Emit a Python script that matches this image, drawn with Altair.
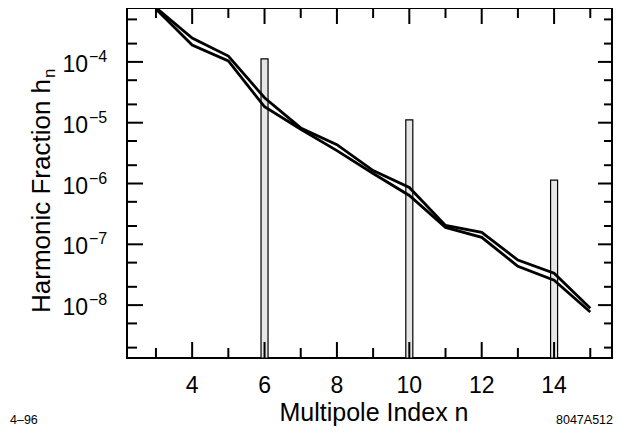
import altair as alt
import pandas as pd
import numpy as np

# ---- data ----
n_vals = [3, 4, 5, 6, 7, 8, 9, 10, 11, 12, 13, 14, 15]
upper = [7.8e-4, 2.47e-4, 1.25e-4, 2.57e-5, 8.2e-6, 4.36e-6, 1.63e-6, 8.6e-7,
         2.05e-7, 1.57e-7, 5.5e-8, 3.35e-8, 8.9e-9]
lower = [7.4e-4, 1.9e-4, 1.04e-4, 1.83e-5, 7.8e-6, 3.47e-6, 1.46e-6, 6.36e-7,
         1.9e-7, 1.3e-7, 4.36e-8, 2.57e-8, 7.7e-9]

bar_n = [6, 10, 14]
bar_h = [1.12e-4, 1.11e-5, 1.14e-6]

x_major = [4, 6, 8, 10, 12, 14]
x_minor = [3, 5, 7, 9, 11, 13, 15]
y_major = [1e-8, 1e-7, 1e-6, 1e-5, 1e-4]
y_minor = [2e-9, 5e-9, 2e-8, 5e-8, 2e-7, 5e-7, 2e-6, 5e-6, 2e-5, 5e-5, 2e-4, 5e-4]
y_exp = ["\u22128", "\u22127", "\u22126", "\u22125", "\u22124"]

x_domain = [2.2, 15.6]
y_domain = [1.35e-9, 7.7e-4]

W, H = 485, 350
BAR_HALF = 0.097
FONT = "Liberation Sans"

xs = alt.Scale(domain=x_domain, nice=False, zero=False)
ys = alt.Scale(type="log", domain=y_domain, nice=False)

lines_df = pd.DataFrame({
    "n": n_vals * 2,
    "h": upper + lower,
    "series": ["a"] * len(n_vals) + ["b"] * len(n_vals),
})
bars_df = pd.DataFrame({"n": bar_n, "h": bar_h})
xmaj_df = pd.DataFrame({"v": x_major})
xmin_df = pd.DataFrame({"v": x_minor})
ymaj_df = pd.DataFrame({"v": y_major, "base": ["10"] * len(y_major), "exp": y_exp})
ymin_df = pd.DataFrame({"v": y_minor})

bars = alt.Chart(bars_df).transform_calculate(
    x1=f"datum.n - {BAR_HALF}", x2=f"datum.n + {BAR_HALF}", base=str(y_domain[0])
).mark_rect(
    fill="#e6e6e6", stroke="black", strokeWidth=1.2
).encode(
    x=alt.X("x1:Q", scale=xs, axis=None),
    x2="x2:Q",
    y=alt.Y("h:Q", scale=ys, axis=None),
    y2="base:Q",
)

lines = alt.Chart(lines_df).mark_line(
    color="black", strokeWidth=2.8, clip=True
).encode(
    x=alt.X("n:Q", scale=xs, axis=None),
    y=alt.Y("h:Q", scale=ys, axis=None),
    detail="series:N",
)

def xticks(df, length):
    bot = alt.Chart(df).mark_rule(color="black", strokeWidth=2).encode(
        x=alt.X("v:Q", scale=xs, axis=None), y=alt.value(H), y2=alt.value(H - length))
    top = alt.Chart(df).mark_rule(color="black", strokeWidth=2).encode(
        x=alt.X("v:Q", scale=xs, axis=None), y=alt.value(0), y2=alt.value(length))
    return [bot, top]

def yticks(df, length, rlength):
    left = alt.Chart(df).mark_rule(color="black", strokeWidth=2).encode(
        y=alt.Y("v:Q", scale=ys, axis=None), x=alt.value(0), x2=alt.value(length))
    right = alt.Chart(df).mark_rule(color="black", strokeWidth=2).encode(
        y=alt.Y("v:Q", scale=ys, axis=None), x=alt.value(W), x2=alt.value(W - rlength))
    return [left, right]

ticks = xticks(xmaj_df, 16) + xticks(xmin_df, 10) + yticks(ymaj_df, 16, 14) + yticks(ymin_df, 10, 8)

xlabels = alt.Chart(xmaj_df).mark_text(
    font=FONT, fontSize=23, align="center", baseline="alphabetic", color="black"
).encode(
    x=alt.X("v:Q", scale=xs, axis=None), y=alt.value(385), text="v:Q"
)

ybase = alt.Chart(ymaj_df).mark_text(
    font=FONT, fontSize=23, align="right", baseline="alphabetic", dy=10, color="black"
).encode(
    y=alt.Y("v:Q", scale=ys, axis=None), x=alt.value(-39), text="base:N"
)
yexp = alt.Chart(ymaj_df).mark_text(
    font=FONT, fontSize=16, align="left", baseline="alphabetic", dy=0, color="black"
).encode(
    y=alt.Y("v:Q", scale=ys, axis=None), x=alt.value(-38), text="exp:N"
)

def label(txt, x, y, size, align="center", angle=0):
    return alt.Chart(pd.DataFrame({"t": [txt]})).mark_text(
        font=FONT, fontSize=size, align=align, baseline="alphabetic",
        angle=angle, color="black"
    ).encode(x=alt.value(x), y=alt.value(y), text="t:N")

xtitle = label("Multipole Index n", 247, 413, 25)
ytitle = label("Harmonic Fraction h", -77, 305, 26, align="left", angle=270)
ysub = label("n", -72, 70, 17, align="left", angle=270)
note_l = label("4\u201396", -117, 416, 12.5, align="left")
note_r = label("8047A512", 486, 416, 12.5, align="right")

chart = alt.layer(
    bars, lines, *ticks, xlabels, ybase, yexp, xtitle, ytitle, ysub, note_l, note_r
).properties(
    width=W, height=H,
    padding={"left": 119, "top": 0, "right": 1, "bottom": 68},
    autosize="none",
    background="white",
).configure_view(
    stroke="black", strokeWidth=2
)

chart.save("out.html", embed_options={"renderer": "svg", "actions": False})
